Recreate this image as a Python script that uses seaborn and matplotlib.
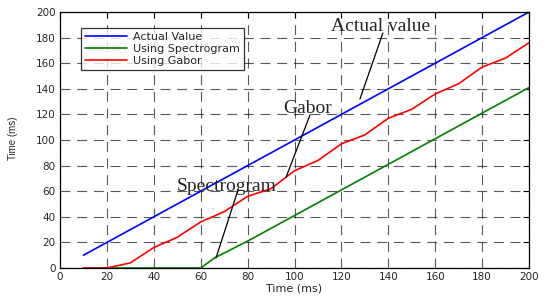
import matplotlib
matplotlib.use("Agg")
import matplotlib.pyplot as plt
import pandas as pd
import seaborn as sns

# Data
time_actual = [10, 200]
actual = [10, 200]

time_spec = [10, 20, 30, 40, 50, 60, 66, 80, 100, 120, 140, 160, 180, 200]
spectrogram = [0, 0, 0, 0, 0, 0, 8, 21, 41, 61, 81, 101, 121, 141]

time_gabor = [10, 20, 30, 40, 50, 60, 70, 80, 90, 100, 110, 120, 130, 140,
              150, 160, 170, 180, 190, 200]
gabor = [0, 0, 4, 16, 24, 36, 44, 56, 62, 76, 84, 97, 104, 117,
         124, 136, 144, 157, 164, 176]

# callout labels: text, text anchor, line start, line end
notes = [
    ('Actual value', (136.9, 185), (137.7, 183.6), (127.9, 132)),
    ('Gabor', (105.8, 121), (106.6, 119.5), (96.4, 71)),
    ('Spectrogram', (71.2, 60.5), (75.9, 60.9), (66.5, 7.8)),
]

sns.set_style("white")
plt.rcParams['font.family'] = ['DejaVu Sans']

df = pd.concat([
    pd.DataFrame({'t': time_actual, 'v': actual, 'series': 'Actual Value'}),
    pd.DataFrame({'t': time_spec, 'v': spectrogram, 'series': 'Using Spectrogram'}),
    pd.DataFrame({'t': time_gabor, 'v': gabor, 'series': 'Using Gabor'}),
], ignore_index=True)

fig = plt.figure(figsize=(5.46, 2.97), dpi=100)
ax = fig.add_axes([0.1099, 0.0976, 0.859, 0.862])

sns.lineplot(data=df, x='t', y='v', hue='series',
             palette={'Actual Value': '#0000ff', 'Using Spectrogram': '#008000',
                      'Using Gabor': '#ff0000'},
             linewidth=1.2, ax=ax, sort=False)

ax.set_xlim(0, 200)
ax.set_ylim(0, 200)
ax.set_xticks(range(0, 201, 20))
ax.set_yticks(range(0, 201, 20))
ax.grid(True, color='black', linestyle=(0, (9, 6)), linewidth=0.8, alpha=0.65)
ax.tick_params(direction='in', top=True, right=True, labelsize=7.5, length=4,
               color='black', pad=3)
for s in ax.spines.values():
    s.set_color('black')
    s.set_linewidth(0.9)

ax.set_xlabel('Time (ms)', fontsize=8, labelpad=1)
ax.set_ylabel('Time (ms)', fontsize=7, family=['Liberation Sans', 'DejaVu Sans'])
ax.yaxis.set_label_coords(-0.09, 0.505)

leg = ax.legend(loc='upper left', bbox_to_anchor=(0.045, 0.9375), fontsize=8,
                frameon=True, fancybox=False, edgecolor='black', handlelength=3.8,
                borderpad=0.35, labelspacing=0.2, handletextpad=0.5,
                borderaxespad=0)
leg.get_frame().set_linewidth(0.9)

serif = ['Liberation Serif', 'DejaVu Serif']
for label, pos, start, end in notes:
    ax.text(pos[0], pos[1], label, fontsize=14, family=serif,
            ha='center', va='baseline')
    ax.annotate('', xy=end, xytext=start,
                arrowprops=dict(arrowstyle='-', color='black', lw=0.9,
                                shrinkA=0, shrinkB=0))

fig.savefig('out.png', dpi=100)
